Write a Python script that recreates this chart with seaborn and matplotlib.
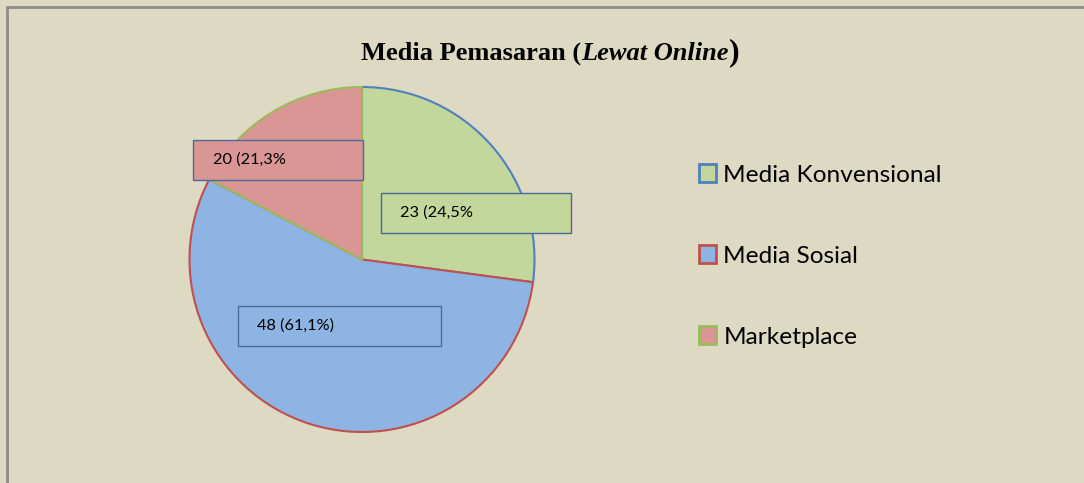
import matplotlib
matplotlib.use("Agg")
import matplotlib.pyplot as plt
from matplotlib.patches import Patch, Rectangle
import seaborn as sns

# data
categories = ["Media Konvensional", "Media Sosial", "Marketplace"]
counts = [23, 48, 20]
# slice shares as drawn in the picture (angles)
shares = [27.1, 55.6, 17.3]
label_texts = ["23 (24,5%", "48 (61,1%)", "20 (21,3%"]

fills = ["#C3D69B", "#8EB4E3", "#D99694"]
edges = ["#4F81BD", "#C0504D", "#9BBB59"]
bg = "#DDD9C3"

sns.set_style("white")
plt.rcParams["font.family"] = ["Lato", "DejaVu Sans"]
plt.rcParams["text.color"] = "black"

W, H = 1084, 483
fig = plt.figure(figsize=(W / 100, H / 100), dpi=100, facecolor=bg)

# outer frame (only left/top visible in the reference)
fig.patches.append(Rectangle((7 / W, -0.1), 1.2, (H - 7) / H + 0.1, transform=fig.transFigure,
                             facecolor=bg, edgecolor="#8C8C8C", linewidth=2, zorder=-5))

# pie axes: centre (362, 259.5) px, radius 172.5 px
cx, cy, r = 362, 259.5, 172.5
ax = fig.add_axes([(cx - r) / W, (H - cy - r) / H, 2 * r / W, 2 * r / H])
ax.set_facecolor("none")
wedges, _ = ax.pie(shares, colors=fills, startangle=90, counterclock=False,
                   wedgeprops=dict(linewidth=1.5))
for w, ec in zip(wedges, edges):
    w.set_edgecolor(ec)
ax.set_xlim(-1, 1)
ax.set_ylim(-1, 1)
ax.set_aspect("auto")
ax.axis("off")

# label boxes (x0, y0, x1, y1, text x) in pie units
boxes = [(0.110, 0.154, 1.212, 0.386, 0.220),
         (-0.719, -0.501, 0.458, -0.270, -0.609),
         (-0.980, 0.461, 0.006, 0.693, -0.864)]
for (x0, y0, x1, y1, tx), txt, fc in zip(boxes, label_texts, fills):
    ax.add_patch(Rectangle((x0, y0), x1 - x0, y1 - y0, facecolor=fc, edgecolor="#4A6A9A",
                           linewidth=1, clip_on=False, zorder=5))
    ax.text(tx, (y0 + y1) / 2, txt, ha="left", va="center", fontsize=11.8,
            color="black", zorder=6, clip_on=False)

# legend
handles = [Patch(facecolor=f, edgecolor=e, linewidth=2) for f, e in zip(fills, edges)]
fig.legend(handles, categories, loc="center left", bbox_to_anchor=(699 / W, (H - 256) / H),
           frameon=False, fontsize=17.6, handlelength=0.7, handleheight=0.7,
           handletextpad=0.3, labelspacing=2.45, borderaxespad=0, borderpad=0,
           labelcolor="black")

# title with mixed bold / bold-italic pieces
renderer = fig.canvas.get_renderer()
parts = [("Media Pemasaran (", "normal", 19), ("Lewat Online", "italic", 19), (")", "normal", 23)]
texts = []
for s, st, fs in parts:
    t = fig.text(0, (H - 60) / H, s, family="Liberation Serif", weight="bold", style=st,
                 fontsize=fs, va="baseline", ha="left", color="black")
    texts.append(t)
widths = [t.get_window_extent(renderer).width for t in texts]
x = 550 - sum(widths) / 2
for t, w in zip(texts, widths):
    t.set_x(x / W)
    x += w

fig.savefig("out.png", dpi=100, facecolor=bg)
